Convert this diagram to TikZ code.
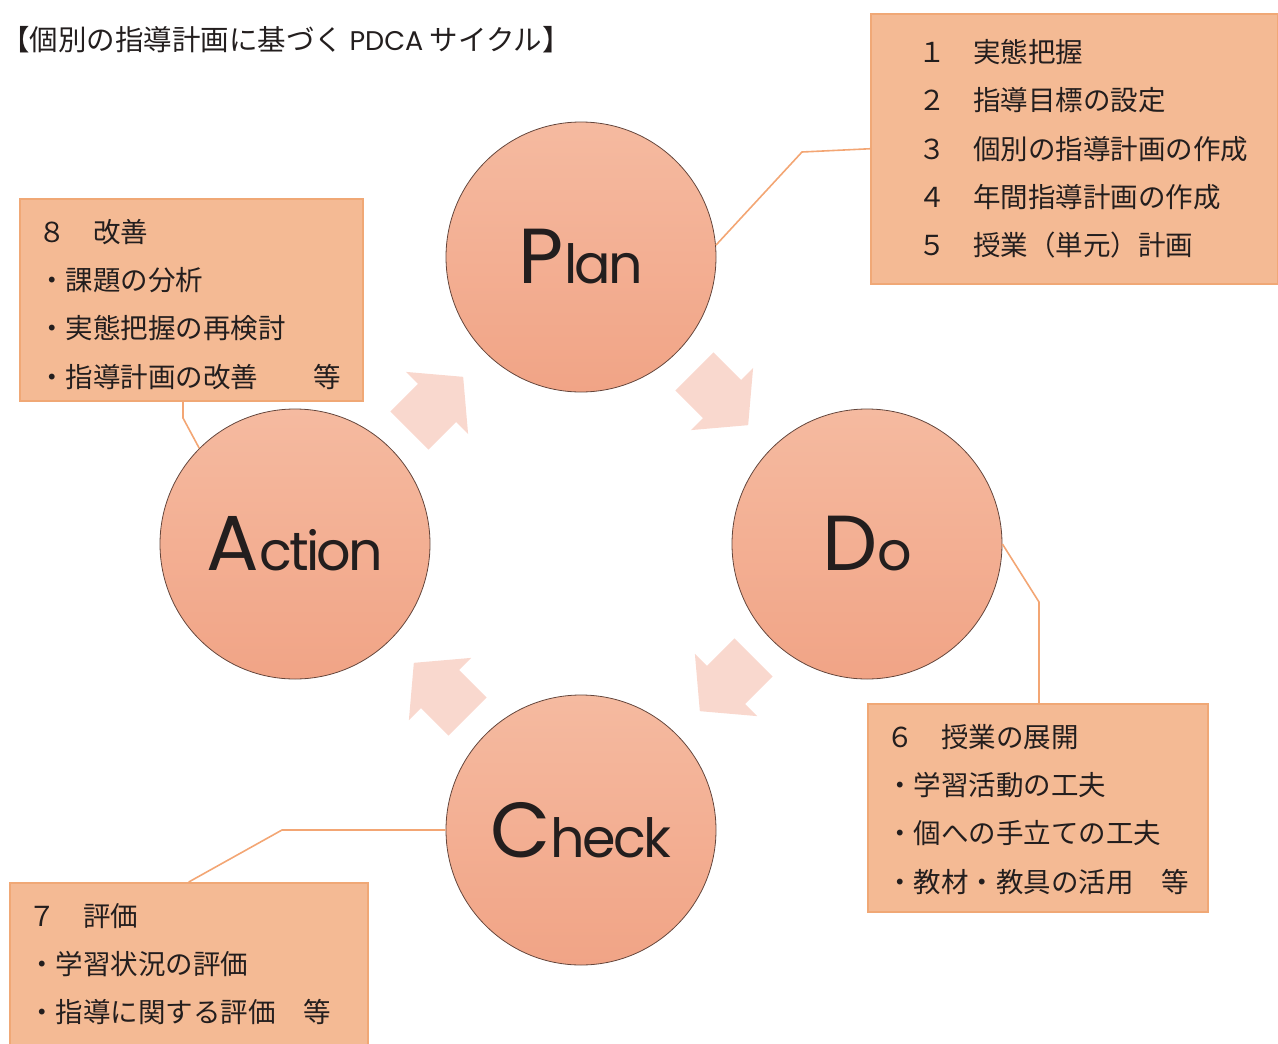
\documentclass[tikz,border=0pt]{standalone}
\usepackage{fontspec}
\setmainfont{Noto Sans CJK JP}
\newfontfamily\pdcafont{Poppins}
\newfontfamily\pdcatight{Poppins}[LetterSpace=-5]
\usetikzlibrary{positioning}

\definecolor{boxfill}{RGB}{244,186,148}
\definecolor{boxline}{RGB}{240,168,118}
\definecolor{wireline}{RGB}{243,166,116}
\definecolor{ballhi}{RGB}{245,186,160}
\definecolor{balllo}{RGB}{241,164,134}
\definecolor{ballrim}{RGB}{100,70,60}
\definecolor{arrowpink}{RGB}{249,216,206}
\definecolor{inktext}{RGB}{35,30,30}

\newcommand{\pdcaword}[2]{{\fontsize{78}{78}\selectfont #1}{\pdcatight\fontsize{54}{54}\selectfont #2}}

\begin{document}
\begin{tikzpicture}[x=1pt,y=-1pt]
			\tikzset{phase/.style={circle, minimum size=270, inner sep=0, draw=ballrim, line width=0.8, top color=ballhi, bottom color=balllo, font=\pdcafont, text=inktext}}
			\tikzset{listbox/.style={rectangle, draw=boxline, fill=boxfill, line width=1.5, inner sep=0, anchor=north west}}
			\tikzset{listtext/.style={anchor=north west, inner sep=0, align=left, text=inktext, font=\fontsize{27.5}{48.3}\selectfont}}
			\tikzset{wire/.style={draw=wireline, line width=1.6}}
			\tikzset{cyclearrow/.pic={\fill[arrowpink] (37,0) -- (0,44) -- (0,27) -- (-39,27) -- (-39,-27) -- (0,-27) -- (0,-44) -- cycle;}}

			\useasboundingbox (0,0) rectangle (1278,1044);

			\draw (1,40) node [anchor=west, inner sep=0, text=inktext, font=\fontsize{28.5}{30}\selectfont] (heading) {【個別の指導計画に基づく {\pdcafont\fontsize{27}{30}\selectfont PDCA} サイクル】};

			\draw (870,13) node [listbox, minimum width=407, minimum height=270] (planbox) {};
			\draw (19,198) node [listbox, minimum width=343, minimum height=202] (actionbox) {};
			\draw (867,703) node [listbox, minimum width=340, minimum height=208] (dobox) {};
			\draw (9,882) node [listbox, minimum width=358, minimum height=190] (checkbox) {};

			\draw (planbox.north west) ++(48,26) node [listtext] (plantext) {１　実態把握\\２　指導目標の設定\\３　個別の指導計画の作成\\４　年間指導計画の作成\\５　授業（単元）計画};
			\draw (actionbox.north west) ++(19,21) node [listtext] (actiontext) {８　改善\\・課題の分析\\・実態把握の再検討\\・指導計画の改善　　等};
			\draw (dobox.north west) ++(19,21) node [listtext] (dotext) {６　授業の展開\\・学習活動の工夫\\・個への手立ての工夫\\・教材・教具の活用　等};
			\draw (checkbox.north west) ++(19,21) node [listtext] (checktext) {７　評価\\・学習状況の評価\\・指導に関する評価　等};

			\draw (581,257) node [phase] (plan) {\pdcaword{P}{lan}};
			\draw (867,544) node [phase] (do) {\pdcaword{D}{o}};
			\draw (581,830) node [phase] (check) {\pdcaword{C}{heck}};
			\draw (295,544) node [phase] (action) {\pdcaword{A}{ction}};

			% cycle arrows
			\pic [rotate=45] at (437,403) {cyclearrow};
			\pic [rotate=-45] at (722,399) {cyclearrow};
			\pic [rotate=-135] at (726,685) {cyclearrow};
			\pic [rotate=135] at (440,689) {cyclearrow};

			% leader lines
			\coordinate (planbend) at (802,152);
			\coordinate (dobend) at (1039,602);
			\coordinate (checkbend) at (282,830);
			\coordinate (actionbend) at (183,418);
			\draw [wire] (plan.5) -- (planbend) -- (planbox.west);
			\draw [wire] (do.east) -- (dobend) -- (dobend|-dobox.north);
			\draw [wire] (check.west) -- (checkbend) -- (checkbox.north);
			\draw [wire] (actionbend|-actionbox.south) -- (actionbend) -- (action.135);
\end{tikzpicture}
\end{document}
